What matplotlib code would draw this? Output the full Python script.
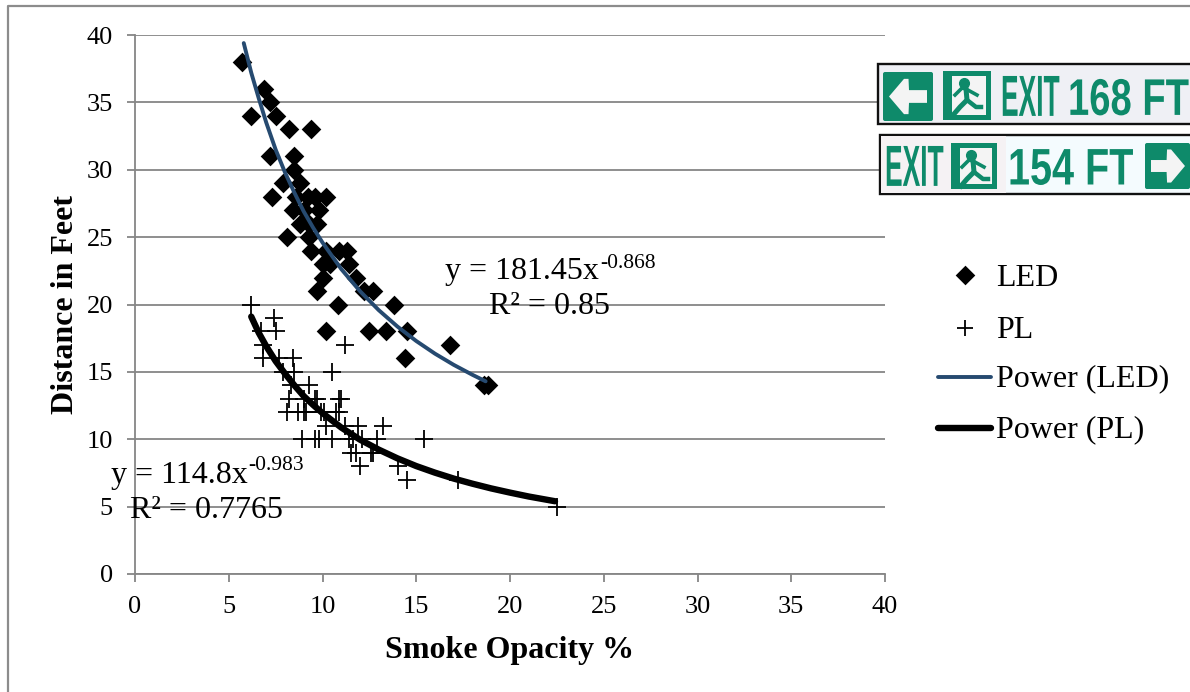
"""Smoke opacity vs. exit sign viewing distance, LED and PL signs."""

import matplotlib

matplotlib.use("Agg")
import matplotlib.pyplot as plt
from matplotlib.patches import FancyBboxPatch, Polygon, Rectangle
from matplotlib.patheffects import AbstractPathEffect
from matplotlib.transforms import Affine2D

W, H = 1190, 692

LED_X = [5.7, 6.2, 6.9, 7.2, 7.5, 7.2, 7.3, 8.2, 9.4, 8.5, 8.5, 7.9, 8.8, 8.6, 9.2, 9.6,
         10.2, 8.4, 9.0, 9.8, 8.8, 9.7, 9.3, 8.1, 9.3, 9.4, 10.2, 10.9, 11.3, 10.0, 10.4,
         11.4, 10.0, 11.8, 9.7, 12.2, 12.7, 10.8, 13.8, 10.2, 12.5, 13.4, 14.5, 16.8, 14.4,
         18.6, 18.8]
LED_Y = [38, 34, 36, 35, 34, 31, 28, 33, 33, 31, 30, 29, 29, 28, 28, 28,
         28, 27, 27, 27, 26, 26, 26, 25, 25, 24, 24, 24, 24, 23, 23,
         23, 22, 22, 21, 21, 21, 20, 20, 18, 18, 18, 18, 17, 16,
         14, 14]

PL_X = [6.2, 7.4, 6.7, 7.5, 6.8, 6.8, 7.7, 8.4, 7.9, 8.5, 10.5, 8.3, 9.3,
        8.2, 9.0, 9.6, 9.7, 10.9, 11.0, 8.1, 8.7, 9.0, 9.1, 9.9, 10.1, 10.7, 10.9,
        10.2, 11.2, 11.9, 13.2, 8.9, 9.6, 9.8, 10.5, 11.4, 11.6, 12.1, 12.9, 15.4,
        11.5, 11.8, 12.6, 12.7, 12.0, 14.0, 14.5, 17.2, 22.5, 11.2]
PL_Y = [20, 19, 18, 18, 17, 16, 16, 16, 15, 15, 15, 14, 14,
        13, 13, 13, 13, 13, 13, 12, 12, 12, 12, 12, 12, 12, 12,
        11, 11, 11, 11, 10, 10, 10, 10, 10, 10, 10, 10, 10,
        9, 9, 9, 9, 8, 8, 7, 7, 5, 17]

LED_TREND_X = [5.8, 6.2, 6.6, 7, 7.5, 8, 8.5, 9, 9.5, 10, 11, 12, 13, 14, 15, 16, 17, 18, 18.7]
LED_TREND_Y = [39.4, 37.2, 35.3, 33.5, 31.5, 29.8, 28.3, 26.9, 25.7, 24.6, 22.63, 20.99,
               19.58, 18.36, 17.29, 16.35, 15.52, 14.78, 14.3]
PL_TREND_X = [6.2, 6.6, 7, 7.5, 8, 8.5, 9, 9.5, 10, 11, 12, 13, 14, 15, 16, 17, 18, 19, 20, 21, 22.4]
PL_TREND_Y = [19.1, 17.9, 16.9, 15.8, 14.87, 14.0, 13.2, 12.55, 11.94, 10.87, 9.97, 9.23, 8.58,
              8.01, 7.52, 7.08, 6.7, 6.35, 6.04, 5.75, 5.4]

X_TICKS = [0, 5, 10, 15, 20, 25, 30, 35, 40]
Y_TICKS = [0, 5, 10, 15, 20, 25, 30, 35, 40]

GREEN = "#0E8A6A"
GRID = "#868686"
LED_LINE = "#264A70"


class TallText(AbstractPathEffect):
    """Stretch a text vertically about a pixel row, for the sign's narrow lettering."""

    def __init__(self, y_px, factor):
        super().__init__()
        self.y0 = H - y_px
        self.factor = factor

    def draw_path(self, renderer, gc, tpath, affine, rgbFace=None):
        stretch = Affine2D().translate(0, -self.y0).scale(1, self.factor).translate(0, self.y0)
        renderer.draw_path(gc, tpath, affine + stretch, rgbFace)


def px_axes(fig, left, top, right, bottom):
    return fig.add_axes([left / W, 1 - bottom / H, (right - left) / W, (bottom - top) / H])


def sign_arrow(ov, x, y, w, h, direction):
    """Green rounded square with a white block arrow."""
    ov.add_patch(FancyBboxPatch((x + 2, y + 2), w - 4, h - 4, boxstyle="round,pad=2",
                                facecolor=GREEN, edgecolor="none", zorder=6))
    cy = y + h / 2
    if direction == "left":
        tip, mid, back, end = x + 6, x + w * 0.42, x + w * 0.52, x + w - 6
    else:
        tip, mid, back, end = x + w - 5, x + w * 0.58, x + w * 0.48, x + 6
    pts = [(tip, cy), (mid, cy - h * 0.36), (back + (mid - back) * 0.1, cy - h * 0.36),
           (back, cy - h * 0.13), (end, cy - h * 0.13), (end, cy + h * 0.13), (back, cy + h * 0.13),
           (back + (mid - back) * 0.1, cy + h * 0.36), (mid, cy + h * 0.36)]
    ov.add_patch(Polygon(pts, facecolor="#F4F4F4", edgecolor="none", zorder=7))


def sign_door(ov, x, y, w, h):
    """Green door square with a small running figure."""
    ov.add_patch(Rectangle((x, y), w, h, facecolor=GREEN, edgecolor="none", zorder=6))
    ov.add_patch(Rectangle((x + 9, y + 5), w - 14, h - 10, facecolor="#F4F4F4", edgecolor="none", zorder=7))
    cx = x + w / 2
    ov.plot([cx - 3], [y + 12], "o", color=GREEN, ms=7, zorder=8)
    ov.plot([cx - 12, cx - 5, cx - 1, cx + 10], [y + 24, y + 17, y + 18, y + 24],
            color=GREEN, lw=2.6, zorder=8)
    ov.plot([cx - 1, cx, cx - 7, cx - 13], [y + 18, y + 29, y + 36, y + 43],
            color=GREEN, lw=3.6, zorder=8)
    ov.plot([cx, cx + 9, cx + 14], [y + 29, y + 36, y + 36], color=GREEN, lw=3.2, zorder=8)


def main():
    plt.rcParams["font.family"] = ["Liberation Serif", "DejaVu Serif"]
    fig = plt.figure(figsize=(W / 100, H / 100), dpi=100)
    ax = px_axes(fig, 135, 35, 885, 574)

    ax.scatter(LED_X, LED_Y, marker="D", s=100, color="black", linewidths=0, zorder=3)
    ax.scatter(PL_X, PL_Y, marker="+", s=150, color="black", linewidths=1.3, zorder=3)
    ax.plot(LED_TREND_X, LED_TREND_Y, color=LED_LINE, lw=2.8, solid_capstyle="round", zorder=4)
    ax.plot(PL_TREND_X, PL_TREND_Y, color="black", lw=4.6, solid_capstyle="round", zorder=4)

    ax.set_xlim(0, 40)
    ax.set_ylim(0, 40)
    ax.set_xticks(X_TICKS)
    ax.set_yticks(Y_TICKS)
    ax.tick_params(length=6, width=1.3, color=GRID, labelsize=19)
    ax.tick_params(axis="x", pad=10)
    ax.tick_params(axis="y", pad=10)
    ax.yaxis.grid(True, color=GRID, lw=1.3)
    ax.set_axisbelow(True)
    for side in ("top", "right"):
        ax.spines[side].set_visible(False)
    for side in ("left", "bottom"):
        ax.spines[side].set_color(GRID)
        ax.spines[side].set_linewidth(1.3)

    ax.set_xlabel("Smoke Opacity %", fontsize=23, fontweight="bold", labelpad=13)
    ax.set_ylabel("Distance in Feet", fontsize=23, fontweight="bold", labelpad=4.5)

    # Overlay in pixel coordinates for annotations, signs, legend and frame
    ov = fig.add_axes([0, 0, 1, 1], facecolor="none")
    ov.set_xlim(0, W)
    ov.set_ylim(H, 0)
    ov.axis("off")

    ov.plot([8, 8, 1190], [692, 6, 6], color="#8C8C8C", lw=1.6, zorder=1)

    eq_size = 23
    sup_size = 15.5
    ov.text(445, 271, "y = 181.45x", fontsize=eq_size, va="center", ha="left", zorder=9)
    ov.text(600, 263, "-0.868", fontsize=sup_size, va="center", ha="left", zorder=9)
    ov.text(489, 307, "R² = 0.85", fontsize=eq_size, va="center", ha="left", zorder=9)
    ov.text(111, 476, "y = 114.8x", fontsize=eq_size, va="center", ha="left", zorder=9)
    ov.text(248, 466, "-0.983", fontsize=sup_size, va="center", ha="left", zorder=9)
    ov.text(130, 510, "R² = 0.7765", fontsize=eq_size, va="center", ha="left", zorder=9)

    # Legend
    ov.scatter([965], [275], marker="D", s=100, color="black", linewidths=0)
    ov.scatter([965], [328], marker="+", s=130, color="black", linewidths=1.3)
    ov.plot([938, 991], [377, 377], color=LED_LINE, lw=2.8, solid_capstyle="round")
    ov.plot([938, 991], [428, 428], color="black", lw=4.6, solid_capstyle="round")
    for y, label in zip([278, 330, 379, 430], ["LED", "PL", "Power (LED)", "Power (PL)"]):
        ov.text(996, y, label, fontsize=23, va="center", ha="left")

    # Exit signs
    ov.add_patch(Rectangle((878, 64), 322, 60, facecolor="#EFF0F5", edgecolor="#111111", lw=1.7, zorder=5))
    ov.add_patch(Rectangle((880, 135), 320, 59, facecolor="#F4FBFE", edgecolor="#111111", lw=1.7, zorder=5))
    ov.add_patch(Rectangle((881, 136), 125, 57, facecolor="#F5F2F4", edgecolor="none", zorder=5))
    sign_arrow(ov, 883, 72, 50, 49, "left")
    sign_door(ov, 943, 71, 48, 49)
    sign_door(ov, 951, 143, 46, 46)
    sign_arrow(ov, 1145, 143, 45, 46, "right")

    exit_font = {"fontsize": 19, "fontweight": "bold", "family": "Liberation Sans", "color": GREEN,
                 "va": "center_baseline", "ha": "left", "zorder": 7}
    ov.text(1001, 95, "EXIT", path_effects=[TallText(95, 2.2)], **exit_font)
    ov.text(885, 165, "EXIT", path_effects=[TallText(165, 2.2)], **exit_font)
    dist_font = {"fontsize": 27.5, "fontweight": "bold", "family": "Liberation Sans", "color": GREEN,
                 "va": "center_baseline", "ha": "left", "zorder": 7}
    ov.text(1068, 96, "168 FT", path_effects=[TallText(96, 1.35)], **dist_font)
    ov.text(1008, 165, "154 FT", fontsize=28.5, fontweight="bold", family="Liberation Sans", color=GREEN,
            va="center_baseline", ha="left", zorder=7, path_effects=[TallText(165, 1.3)])

    fig.savefig("out.png", dpi=100, facecolor="white")
    plt.close(fig)


if __name__ == "__main__":
    main()
